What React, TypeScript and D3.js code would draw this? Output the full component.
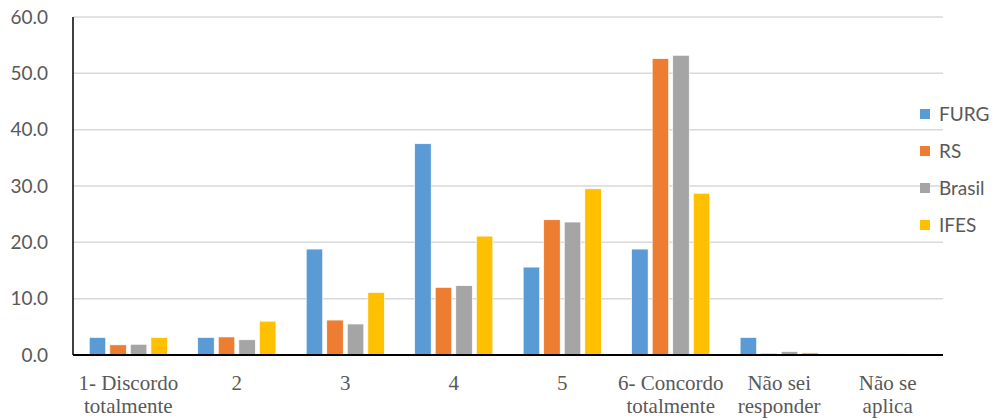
import React from "react";
import * as d3 from "d3";

const categories: string[][] = [
  ["1- Discordo", "totalmente"],
  ["2"],
  ["3"],
  ["4"],
  ["5"],
  ["6- Concordo", "totalmente"],
  ["Não sei", "responder"],
  ["Não se", "aplica"],
];
const seriesNames = ["FURG", "RS", "Brasil", "IFES"];
const seriesColors = ["#5B9BD5", "#ED7D31", "#A5A5A5", "#FFC000"];
const furg = [3.1, 3.1, 18.8, 37.5, 15.6, 18.8, 3.1, 0];
const rs = [1.8, 3.2, 6.2, 12.0, 24.0, 52.6, 0.3, 0];
const brasil = [1.9, 2.7, 5.5, 12.3, 23.6, 53.2, 0.6, 0.2];
const ifes = [3.1, 6.0, 11.1, 21.1, 29.5, 28.7, 0.4, 0];
const yTicks = [0, 10, 20, 30, 40, 50, 60];

const W = 995;
const H = 419;
const L = 73;
const R = 943;
const T = 17;
const B = 355;

export default function App() {
  const values = [furg, rs, brasil, ifes];
  const x0 = d3
    .scaleBand<number>()
    .domain(categories.map((_, i) => i))
    .range([L, R])
    .paddingInner(0.28)
    .paddingOuter(0.15);
  const x1 = d3
    .scaleBand<number>()
    .domain(seriesNames.map((_, i) => i))
    .range([0, x0.bandwidth()])
    .paddingInner(0.2);
  const y = d3.scaleLinear().domain([0, 60]).range([B, T]);
  const axisFont = "Lato, 'Open Sans', sans-serif";

  return (
    <svg
      width={W}
      height={H}
      style={{ position: "absolute", left: 0, top: 0, background: "#fff" }}
    >
      {yTicks.map((t) => (
        <g key={t}>
          {t > 0 && (
            <line x1={L} x2={R} y1={y(t)} y2={y(t)} stroke="#d9d9d9" strokeWidth={1.5} />
          )}
          <text
            x={48}
            y={y(t)}
            dy="0.35em"
            textAnchor="end"
            fontFamily={axisFont}
            fontSize={19}
            fill="#595959"
          >
            {d3.format(".1f")(t)}
          </text>
        </g>
      ))}
      {categories.map((c, ci) =>
        values.map((vals, si) => {
          const v = vals[ci];
          const bx = (x0(ci) as number) + (x1(si) as number);
          return (
            <rect
              key={`${ci}-${si}`}
              x={bx}
              y={y(v)}
              width={x1.bandwidth()}
              height={B - y(v)}
              fill={seriesColors[si]}
              stroke="#ffffff"
              strokeWidth={0.6}
            />
          );
        })
      )}
      <line x1={L} x2={L} y1={T} y2={B} stroke="#000" strokeWidth={1.5} />
      <line x1={L} x2={R} y1={B} y2={B} stroke="#000" strokeWidth={2} />
      {categories.map((lines, ci) => {
        const cx = (x0(ci) as number) + x0.bandwidth() / 2;
        return (
          <text
            key={ci}
            textAnchor="middle"
            fontFamily="'Liberation Serif', 'Times New Roman', serif"
            fontSize={21}
            fill="#595959"
          >
            {lines.map((ln, li) => (
              <tspan key={li} x={cx} y={390 + li * 23}>
                {ln}
              </tspan>
            ))}
          </text>
        );
      })}
      {seriesNames.map((s, si) => {
        const ly = 114 + si * 37;
        return (
          <g key={s}>
            <rect x={920} y={ly - 5} width={10} height={10} fill={seriesColors[si]} />
            <text
              x={939}
              y={ly}
              dy="0.35em"
              fontFamily={axisFont}
              fontSize={19}
              fill="#595959"
            >
              {s}
            </text>
          </g>
        );
      })}
    </svg>
  );
}
